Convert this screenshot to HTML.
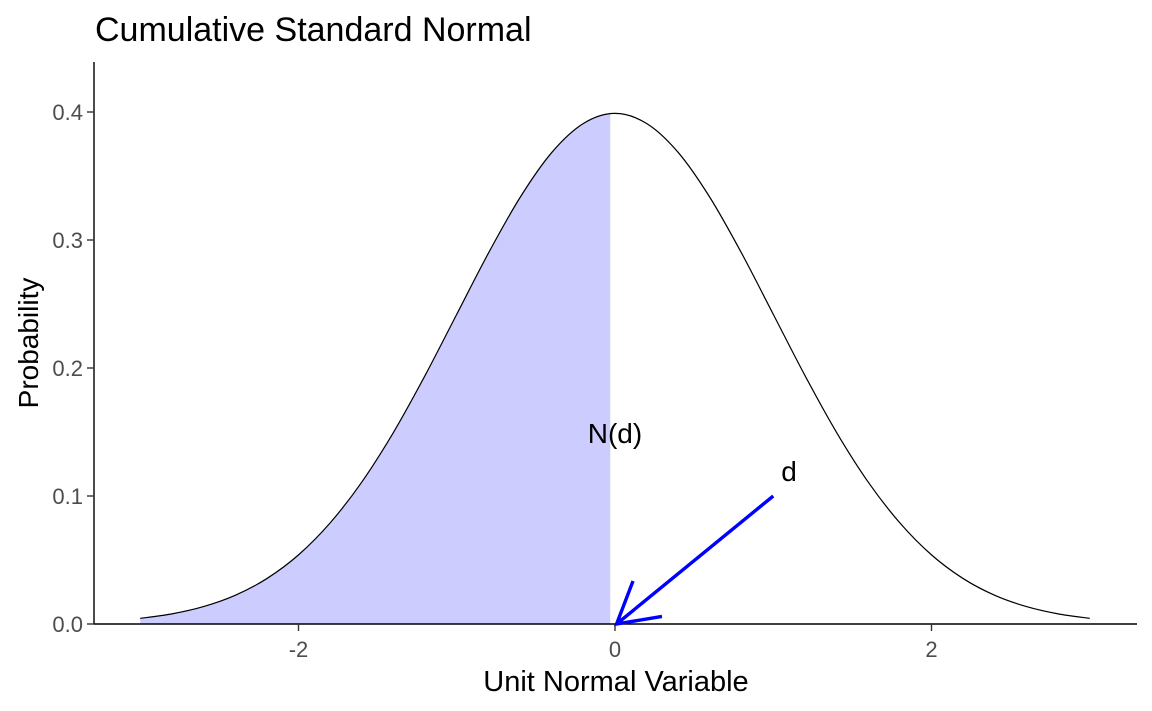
<!DOCTYPE html>
<html><head><meta charset="utf-8"><style>
html,body{margin:0;padding:0;background:#fff;}
svg{display:block;font-family:"Liberation Sans",Arial,sans-serif;}
</style></head><body>
<svg id="chart" width="1152" height="711"></svg>
<script>
const halfX = [0,0.2,0.4,0.6,0.8,1.0,1.2,1.4,1.6,1.8,2.0,2.2,2.4,2.6,2.8,3.0];
const halfDensity = [0.3989,0.3910,0.3683,0.3332,0.2897,0.2420,0.1942,0.1497,0.1109,0.0790,0.0540,0.0355,0.0224,0.0136,0.0079,0.0044];
const xTicks = [-2,0,2];
const xTickLabels = ["-2","0","2"];
const yTicks = [0,0.1,0.2,0.3,0.4];
const yTickLabels = ["0.0","0.1","0.2","0.3","0.4"];
const shadeMax = -0.03;
const arrowFrom = [1.0,0.1];
const arrowTo = [0.01,0.0];

const NS="http://www.w3.org/2000/svg";
const svg=document.getElementById('chart');
const sx=v=>615+v*158.25;
const sy=v=>624-v*1280;
function el(t,a,p){const e=document.createElementNS(NS,t);for(const k in a)e.setAttribute(k,a[k]);(p||svg).appendChild(e);return e;}

const xs=[],ys=[];
for(let i=halfX.length-1;i>0;i--){xs.push(-halfX[i]);ys.push(halfDensity[i]);}
for(let i=0;i<halfX.length;i++){xs.push(halfX[i]);ys.push(halfDensity[i]);}
function smoothPath(px,py){
  let d=`M${px[0]},${py[0]}`;
  for(let i=0;i<px.length-1;i++){
    const x0=px[Math.max(i-1,0)],y0=py[Math.max(i-1,0)],x1=px[i],y1=py[i],x2=px[i+1],y2=py[i+1],x3=px[Math.min(i+2,px.length-1)],y3=py[Math.min(i+2,px.length-1)];
    d+=` C${x1+(x2-x0)/6},${y1+(y2-y0)/6} ${x2-(x3-x1)/6},${y2-(y3-y1)/6} ${x2},${y2}`;
  }
  return d;
}
const PX=xs.map(sx),PY=ys.map(sy);
const clip=el('clipPath',{id:'shadeClip'});
el('rect',{x:0,y:0,width:sx(shadeMax),height:711},clip);
const area=smoothPath(PX,PY)+` L${PX[PX.length-1]},${sy(0)} L${PX[0]},${sy(0)} Z`;
const a=el('path',{d:area,fill:'#ccccff',stroke:'none','clip-path':'url(#shadeClip)'});


const c=el('path',{d:smoothPath(PX,PY),fill:'none',stroke:'#000','stroke-width':1.2});



const ax=el('line',{x1:94,y1:624,x2:1137,y2:624,stroke:'#000','stroke-width':1.4});


const ay=el('line',{x1:94,y1:62,x2:94,y2:624,stroke:'#000','stroke-width':1.4});


xTicks.forEach((v,i)=>{
  el('line',{x1:sx(v),y1:624,x2:sx(v),y2:631,stroke:'#333','stroke-width':1.4});
  const t=el('text',{x:sx(v),y:657,'text-anchor':'middle','font-size':22,fill:'#4d4d4d'});
  t.textContent=xTickLabels[i];
  
  
});
yTicks.forEach((v,i)=>{
  el('line',{x1:87,y1:sy(v),x2:94,y2:sy(v),stroke:'#333','stroke-width':1.4});
  const t=el('text',{x:83,y:sy(v)+8,'text-anchor':'end','font-size':22,fill:'#4d4d4d'});
  t.textContent=yTickLabels[i];
  
  
});

const x1=sx(arrowFrom[0]),y1=sy(arrowFrom[1]),x2=sx(arrowTo[0]),y2=sy(arrowTo[1]);
const ang=Math.atan2(y1-y2,x1-x2),L=46,sp=0.52;
const ar=el('path',{d:`M${x1},${y1} L${x2},${y2} M${x2+L*Math.cos(ang-sp)},${y2+L*Math.sin(ang-sp)} L${x2},${y2} L${x2+L*Math.cos(ang+sp)},${y2+L*Math.sin(ang+sp)}`,fill:'none',stroke:'#0000ff','stroke-width':3.4});



function txt(x,y,s,size,name,extra){const t=el('text',Object.assign({x:x,y:y,'font-size':size,fill:'#000'},extra||{}));t.textContent=s;return t;}
txt(789,481,'d',28,'d-label',{'text-anchor':'middle'});
txt(615,443,'N(d)',28,'nd-label',{'text-anchor':'middle'});
txt(95,41,'Cumulative Standard Normal',34,'chart-title');
txt(616,691,'Unit Normal Variable',29,'x-axis-title',{'text-anchor':'middle'});
txt(38,343,'Probability',28,'y-axis-title',{'text-anchor':'middle',transform:'rotate(-90 38 343)'});
</script>
</body></html>
